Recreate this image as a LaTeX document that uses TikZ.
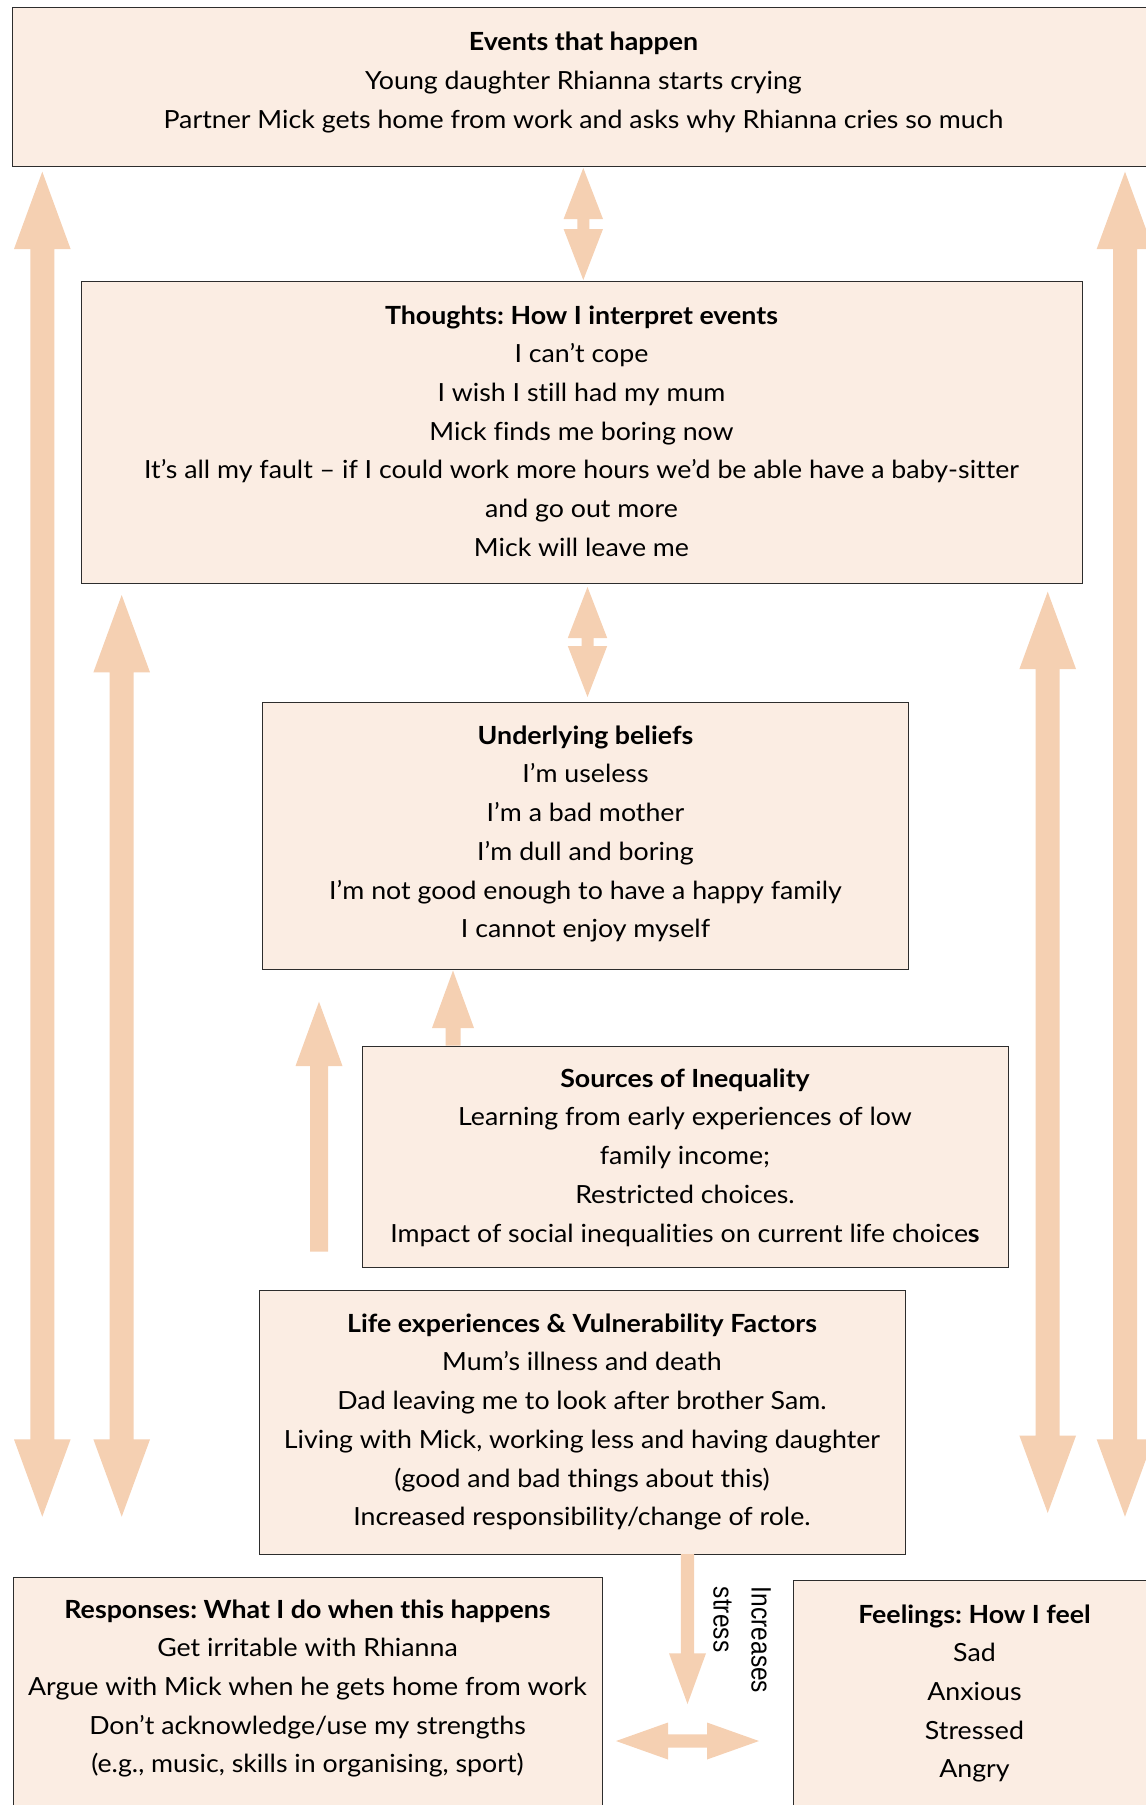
\documentclass[tikz,border=0pt]{standalone}
\usepackage{fontspec}
\setmainfont{Lato}[FakeStretch=1.07, Ligatures=NoCommon]
\newfontfamily\lblfont[FakeStretch=0.875]{Liberation Sans}
\usetikzlibrary{calc}
\frenchspacing
\definecolor{boxfill}{RGB}{251,237,227}
\definecolor{arrfill}{RGB}{245,208,178}
\definecolor{boxline}{RGB}{45,45,45}
% vertical double arrow: #1 top tip, #2 bottom tip, #3 shaft half, #4 head half, #5 head length
\newcommand\vdarrow[5]{\fill[bigarrow] let \p1=(#1), \p2=(#2) in (\x1,\y1) -- (\x1+#4,\y1-#5) -- (\x1+#3,\y1-#5) -- (\x2+#3,\y2+#5) -- (\x2+#4,\y2+#5) -- (\x2,\y2) -- (\x2-#4,\y2+#5) -- (\x2-#3,\y2+#5) -- (\x1-#3,\y1-#5) -- (\x1-#4,\y1-#5) -- cycle;}
% vertical single arrow: #1 tip, #2 flat end, #5 signed head length (positive = pointing up)
\newcommand\varrow[5]{\fill[bigarrow] let \p1=(#1), \p2=(#2) in (\x1,\y1) -- ({\x1+#4},{\y1-(#5)}) -- ({\x1+#3},{\y1-(#5)}) -- (\x2+#3,\y2) -- (\x2-#3,\y2) -- ({\x1-#3},{\y1-(#5)}) -- ({\x1-#4},{\y1-(#5)}) -- cycle;}
% horizontal double arrow: #1 left tip, #2 right tip
\newcommand\hdarrow[5]{\fill[bigarrow] let \p1=(#1), \p2=(#2) in (\x1,\y1) -- (\x1+#5,\y1+#4) -- (\x1+#5,\y1+#3) -- (\x2-#5,\y2+#3) -- (\x2-#5,\y2+#4) -- (\x2,\y2) -- (\x2-#5,\y2-#4) -- (\x2-#5,\y2-#3) -- (\x1+#5,\y1-#3) -- (\x1+#5,\y1-#4) -- cycle;}
\begin{document}
\begin{tikzpicture}[x=1pt,y=-1pt,
  panel/.style={draw=boxline, line width=1.3pt, fill=boxfill, anchor=north west, inner sep=0pt},
  txt/.style={align=center, inner sep=0pt, text=black, font=\fontsize{25}{38.7}\selectfont},
  lbl/.style={align=left, inner sep=0pt, text=black, font=\lblfont\fontsize{28}{38}\selectfont},
  bigarrow/.style={fill=arrfill}]
\useasboundingbox (0,0) rectangle (1146,1805);
\clip (0,0) rectangle (1146,1805);
% boxes
\node[panel, minimum width=1148pt, minimum height=159.5pt] (events) at (12,6.5) {};
\node[panel, minimum width=1001.3pt, minimum height=301.7pt] (thoughts) at (80.7,281) {};
\node[panel, minimum width=646pt, minimum height=267pt] (beliefs) at (262,702) {};
\node[panel, minimum width=646.5pt, minimum height=221.5pt] (sources) at (361.5,1045.5) {};
\node[panel, minimum width=645.5pt, minimum height=264pt] (life) at (259,1290) {};
\node[panel, minimum width=589.5pt, minimum height=300pt] (responses) at (12.5,1576.7) {};
\node[panel, minimum width=400pt, minimum height=300pt] (feelings) at (793,1580) {};
% texts
\node[txt] (evT) at (583.5,82.5) {\textbf{Events that happen}\\Young daughter Rhianna starts crying\\Partner Mick gets home from work and asks why Rhianna cries so much};
\node[txt] (thT) at (581.5,431) {\textbf{Thoughts: How I interpret events}\\I can’t cope\\I wish I still had my mum\\Mick finds me boring now\\It’s all my fault – if I could work more hours we’d be able have a baby-sitter\\and go out more\\Mick will leave me};
\node[txt] (beT) at (585.5,834) {\textbf{Underlying beliefs}\\I’m useless\\I’m a bad mother\\I’m dull and boring\\I’m not good enough to have a happy family\\I cannot enjoy myself};
\node[txt] (soT) at (685,1157.5) {\textbf{Sources of Inequality}\\Learning from early experiences of low\\family income;\\Restricted choices.\\Impact of social inequalities on current life choice\textbf{s}};
\node[txt] (liT) at (582,1422) {\textbf{Life experiences \& Vulnerability Factors}\\Mum’s illness and death\\Dad leaving me to look after brother Sam.\\Living with Mick, working less and having daughter\\(good and bad things about this)\\Increased responsibility/change of role.};
\node[txt] (reT) at (307.5,1688.5) {\textbf{Responses: What I do when this happens}\\Get irritable with Rhianna\\Argue with Mick when he gets home from work\\Don’t acknowledge/use my strengths\\(e.g., music, skills in organising, sport)};
\node[txt] (feT) at (974.5,1693.5) {\textbf{Feelings: How I feel}\\Sad\\Anxious\\Stressed\\Angry};
\node[lbl, rotate=-90, anchor=north west] (stressT) at (771,1586.7) {Increases\\stress};
% arrow end points
\coordinate (l1t) at (42.3,171.7);   \coordinate (l1b) at (42.3,1516.7);
\coordinate (l2t) at (121.7,595);    \coordinate (l2b) at (121.7,1516.7);
\coordinate (r1t) at (1047.7,591.7); \coordinate (r1b) at (1047.7,1513);
\coordinate (r2t) at (1125,171.7);   \coordinate (r2b) at (1125,1516.7);
\coordinate (etT) at (583.3,168);    \coordinate (etB) at (583.3,280);
\coordinate (tbT) at (587.5,587);    \coordinate (tbB) at (587.5,697);
\coordinate (sbT) at (453,970.5);    \coordinate (sbB) at (453,1045.5);
\coordinate (laT) at (319,1001.7);   \coordinate (laB) at (319,1251.7);
\coordinate (lsT) at (687.5,1554);   \coordinate (lsB) at (687.5,1704);
\coordinate (hL) at (616,1741);      \coordinate (hR) at (759,1741);
% arrows
\vdarrow{l1t}{l1b}{12pt}{28.3pt}{77.3pt}
\vdarrow{l2t}{l2b}{12pt}{28.3pt}{77.3pt}
\vdarrow{r1t}{r1b}{12pt}{28.3pt}{77.3pt}
\vdarrow{r2t}{r2b}{12pt}{28.3pt}{77.3pt}
\vdarrow{etT}{etB}{6pt}{19.7pt}{51pt}
\vdarrow{tbT}{tbB}{6pt}{19.7pt}{51pt}
\varrow{sbT}{sbB}{7.5pt}{21pt}{57.5pt}
\varrow{laT}{laB}{9pt}{23.5pt}{64.3pt}
\varrow{lsB}{lsT}{6.6pt}{18.5pt}{-50.7pt}
\hdarrow{hL}{hR}{6.7pt}{18.5pt}{52pt}
\end{tikzpicture}
\end{document}
